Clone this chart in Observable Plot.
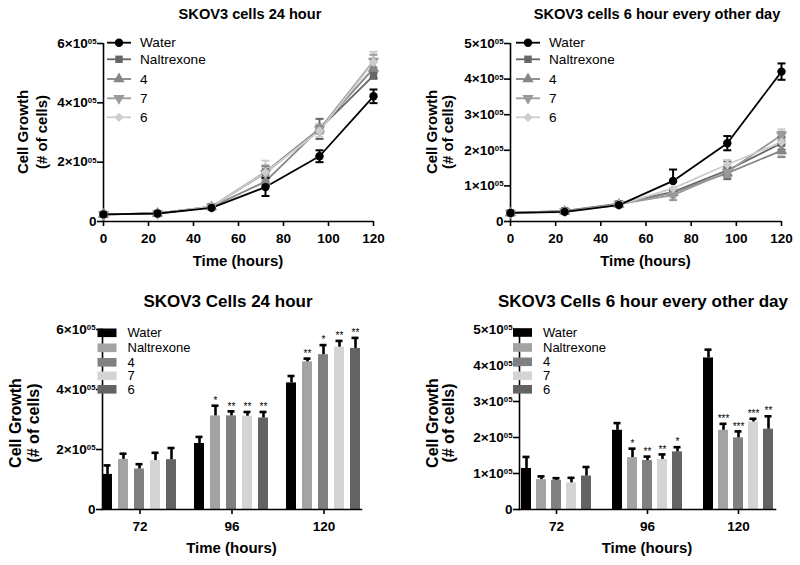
<!DOCTYPE html>
<html><head><meta charset="utf-8">
<script src="https://cdn.jsdelivr.net/npm/d3@7"></script>
<script src="https://cdn.jsdelivr.net/npm/@observablehq/plot@0.6"></script>
<style>
body{margin:0;background:#fff;}
#wrap{position:relative;width:800px;height:565px;font-family:"Liberation Sans",Arial,Helvetica,sans-serif;}
#wrap svg{position:absolute;overflow:visible;}
</style></head><body><div id="wrap"></div>
<script>
// ---------- DATA (cell counts in units of 1e5) ----------
const treatments = ["Water", "Naltrexone", "4", "7", "6"];
const lineTimes = [0, 24, 48, 72, 96, 120];
const barTimes = [72, 96, 120];

// Panel A: SKOV3 cells 24 hour (line)
const a_water = [0.24, 0.27, 0.46, 1.16, 2.20, 4.22];
const a_nal   = [0.24, 0.27, 0.50, 1.67, 3.12, 4.92];
const a_4     = [0.24, 0.27, 0.49, 1.35, 3.12, 5.16];
const a_7     = [0.24, 0.27, 0.50, 1.63, 3.11, 5.41];
const a_6     = [0.24, 0.27, 0.50, 1.66, 3.05, 5.37];
const a_water_sem = [0.02, 0.02, 0.03, 0.30, 0.20, 0.23];
const a_nal_sem   = [0.02, 0.02, 0.02, 0.19, 0.34, 0.11];
const a_4_sem     = [0.02, 0.02, 0.02, 0.16, 0.15, 0.32];
const a_7_sem     = [0.02, 0.02, 0.02, 0.26, 0.14, 0.21];
const a_6_sem     = [0.02, 0.02, 0.02, 0.39, 0.20, 0.35];

// Panel B: SKOV3 cells 6 hour every other day (line)
const b_water = [0.24, 0.27, 0.46, 1.14, 2.20, 4.21];
const b_nal   = [0.24, 0.30, 0.50, 0.83, 1.44, 2.20];
const b_4     = [0.24, 0.28, 0.48, 0.81, 1.36, 1.99];
const b_7     = [0.24, 0.29, 0.49, 0.74, 1.39, 2.43];
const b_6     = [0.24, 0.26, 0.47, 0.93, 1.60, 2.23];
const b_water_sem = [0.02, 0.02, 0.02, 0.32, 0.20, 0.23];
const b_nal_sem   = [0.02, 0.04, 0.03, 0.09, 0.25, 0.18];
const b_4_sem     = [0.02, 0.03, 0.03, 0.06, 0.11, 0.18];
const b_7_sem     = [0.02, 0.03, 0.03, 0.14, 0.14, 0.09];
const b_6_sem     = [0.02, 0.03, 0.03, 0.25, 0.13, 0.36];

// Panel C: SKOV3 Cells 24 hour (bars at 72, 96, 120 h)
const c_water = [1.17, 2.20, 4.22];
const c_nal   = [1.67, 3.12, 4.92];
const c_4     = [1.35, 3.12, 5.16];
const c_7     = [1.63, 3.11, 5.41];
const c_6     = [1.66, 3.05, 5.37];
const c_water_sem = [0.30, 0.22, 0.23];
const c_nal_sem   = [0.19, 0.34, 0.11];
const c_4_sem     = [0.16, 0.15, 0.32];
const c_7_sem     = [0.26, 0.14, 0.21];
const c_6_sem     = [0.39, 0.20, 0.35];
const c_water_sig = ["", "", ""];
const c_nal_sig   = ["", "*", "**"];
const c_4_sig     = ["", "**", "*"];
const c_7_sig     = ["", "**", "**"];
const c_6_sig     = ["", "**", "**"];

// Panel D: SKOV3 Cells 6 hour every other day (bars)
const d_water = [1.14, 2.20, 4.21];
const d_nal   = [0.83, 1.44, 2.20];
const d_4     = [0.81, 1.36, 1.99];
const d_7     = [0.74, 1.39, 2.43];
const d_6     = [0.93, 1.60, 2.23];
const d_water_sem = [0.32, 0.20, 0.23];
const d_nal_sem   = [0.09, 0.25, 0.18];
const d_4_sem     = [0.06, 0.11, 0.18];
const d_7_sem     = [0.14, 0.14, 0.09];
const d_6_sem     = [0.25, 0.13, 0.36];
const d_water_sig = ["", "", ""];
const d_nal_sig   = ["", "*", "***"];
const d_4_sig     = ["", "**", "***"];
const d_7_sig     = ["", "**", "***"];
const d_6_sig     = ["", "*", "**"];

const lineColors = ["#000000", "#666666", "#868686", "#9a9a9a", "#cdcdcd"];
const barColors  = ["#000000", "#a3a3a6", "#808080", "#d4d4d4", "#636363"];

// ---------- helpers ----------
const FONT = '"Liberation Sans", Arial, Helvetica, sans-serif';
const ns = "http://www.w3.org/2000/svg";
const SCALE = 1e5;
const fmt = d => d === 0 ? "0" : `${Math.round(d / SCALE)}×10^05`;

const triDown = {draw(ctx, size) {
  const y = -Math.sqrt(size / (Math.sqrt(3) * 3));
  ctx.moveTo(0, -2 * y); ctx.lineTo(-Math.sqrt(3) * y, y); ctx.lineTo(Math.sqrt(3) * y, y); ctx.closePath();
}};
const hbar = {draw(ctx, size) {
  const w = Math.sqrt(size / Math.PI);
  ctx.moveTo(-w, 0); ctx.lineTo(w, 0);
}};
const lineSymbols = [d3.symbolCircle, d3.symbolSquare, d3.symbolTriangle, triDown, d3.symbolDiamond2];

function superscripts(svg) {
  svg.querySelectorAll("text").forEach(t => {
    if (t.textContent.includes("^")) {
      const [base, sup] = t.textContent.split("^");
      t.textContent = base;
      const ts = document.createElementNS(ns, "tspan");
      ts.setAttribute("dy", "-0.5em");
      ts.setAttribute("font-size", "0.58em");
      ts.textContent = sup;
      t.appendChild(ts);
    }
  });
}

function addText(svg, txt, x, y, size, weight, anchor = "middle", rotate = false) {
  const t = d3.select(svg).append("text")
    .attr("font-family", FONT).attr("font-size", size).attr("font-weight", weight)
    .attr("text-anchor", anchor).attr("dy", "0.35em").attr("fill", "#000").text(txt);
  if (rotate) t.attr("transform", `translate(${x},${y}) rotate(-90)`);
  else t.attr("x", x).attr("y", y);
  return t;
}

function place(svg, left, top) {
  svg.style.left = left + "px";
  svg.style.top = top + "px";
  document.getElementById("wrap").appendChild(svg);
}

const axisStyle = {fontSize: 13.5, fontWeight: "bold", fill: "#000"};

function lineData(means, sems) {
  const rows = [];
  treatments.forEach((tr, i) => lineTimes.forEach((t, j) => rows.push({
    treatment: tr, time: t, mean: means[i][j] * SCALE,
    lo: (means[i][j] - sems[i][j]) * SCALE, hi: (means[i][j] + sems[i][j]) * SCALE
  })));
  // draw Water last so it sits on top
  return rows.filter(r => r.treatment !== "Water").concat(rows.filter(r => r.treatment === "Water"));
}

function linePanel({means, sems, yMax, yStep, marginLeft, marginRight, title, titleX, labelX1, labelX2, legendX, left}) {
  const data = lineData(means, sems);
  const yTicks = d3.range(0, yMax + 1, yStep);
  const svg = Plot.plot({
    width: 400, height: 270,
    marginLeft, marginRight, marginTop: 43, marginBottom: 49,
    style: {fontFamily: FONT, fontSize: "13px", color: "#000", background: "transparent"},
    x: {domain: [0, 120], label: null},
    y: {domain: [0, yMax], label: null},
    color: {domain: treatments, range: lineColors},
    symbol: {domain: treatments, range: lineSymbols},
    marks: [
      Plot.axisX({ticks: [0, 20, 40, 60, 80, 100, 120], tickSize: 5, tickPadding: 7, label: null, strokeWidth: 1.6, ...axisStyle}),
      Plot.axisY({ticks: yTicks, tickFormat: fmt, tickSize: 6, tickPadding: 1, label: null, strokeWidth: 1.6, ...axisStyle}),
      Plot.ruleY([0], {strokeWidth: 1.6}),
      Plot.ruleX([0], {strokeWidth: 1.6}),
      Plot.line(data, {x: "time", y: "mean", z: "treatment", stroke: "treatment", strokeWidth: 1.8}),
      Plot.ruleX(data, {x: "time", y1: "lo", y2: "hi", stroke: "treatment", strokeWidth: 2}),
      Plot.dot(data, {x: "time", y: "lo", symbol: hbar, r: 4, stroke: "treatment", strokeWidth: 2}),
      Plot.dot(data, {x: "time", y: "hi", symbol: hbar, r: 4, stroke: "treatment", strokeWidth: 2}),
      Plot.dot(data, {x: "time", y: "mean", symbol: "treatment", fill: "treatment", r: 4.2, stroke: null})
    ]
  });
  superscripts(svg);
  addText(svg, title, titleX, 14, 14.6, "bold");
  addText(svg, "Cell Growth", labelX1, 132, 15, "bold", "middle", true);
  addText(svg, "(# of cells)", labelX2, 132, 15, "bold", "middle", true);
  addText(svg, "Time (hours)", marginLeft + (400 - marginLeft - marginRight) / 2, 261, 15, "bold");
  // legend
  const rows = [42.7, 59.3, 79, 98.3, 117.3];
  const g = d3.select(svg).append("g");
  treatments.forEach((tr, i) => {
    g.append("line").attr("x1", legendX).attr("x2", legendX + 24).attr("y1", rows[i]).attr("y2", rows[i])
      .attr("stroke", lineColors[i]).attr("stroke-width", 1.8);
    g.append("path").attr("d", d3.symbol(lineSymbols[i], 4.2 * 4.2 * Math.PI)())
      .attr("transform", `translate(${legendX + 12},${rows[i]})`).attr("fill", lineColors[i]);
    g.append("text").attr("x", legendX + 33).attr("y", rows[i]).attr("dy", "0.35em")
      .attr("text-anchor", "start").attr("font-weight", "normal")
      .attr("font-family", FONT).attr("font-size", 13.6).attr("fill", "#000").text(tr);
  });
  place(svg, left, 0);
}

function barData(means, sems, sigs) {
  const rows = [];
  treatments.forEach((tr, i) => barTimes.forEach((t, j) => rows.push({
    treatment: tr, time: t, mean: means[i][j] * SCALE,
    top: (means[i][j] + sems[i][j]) * SCALE, sig: sigs[i][j]
  })));
  return rows;
}

function barPanel({means, sems, sigs, yMax, yStep, marginLeft, marginRight, title, titleX, labelX1, labelX2, legendX, legendRows, left}) {
  const data = barData(means, sems, sigs);
  const yTicks = d3.range(0, yMax + 1, yStep);
  const svg = Plot.plot({
    width: 400, height: 295,
    marginLeft, marginRight, marginTop: 59, marginBottom: 56,
    style: {fontFamily: FONT, fontSize: "13px", color: "#000", background: "transparent"},
    fx: {domain: barTimes, paddingInner: 0.185, paddingOuter: 0.065, label: null},
    x: {domain: treatments, paddingInner: 0.35, paddingOuter: 0, axis: null},
    y: {domain: [0, yMax], label: null},
    color: {domain: treatments, range: barColors},
    marks: [
      Plot.barY(data, {fx: "time", x: "treatment", y: "mean", fill: "treatment"}),
      Plot.ruleX(data, {fx: "time", x: "treatment", y1: "mean", y2: "top", stroke: "#000", strokeWidth: 2.6}),
      Plot.tickY(data, {fx: "time", x: "treatment", y: "top", stroke: "#000", strokeWidth: 2.6, insetLeft: 1.5, insetRight: 1.5}),
      Plot.text(data, {fx: "time", x: "treatment", y: "top", text: "sig", dy: -5, fontSize: 10, fill: "#000"}),
      Plot.axisFx({anchor: "bottom", tickSize: 5, tickPadding: 6.5, label: null, strokeWidth: 1.6, ...axisStyle}),
      Plot.axisY({ticks: yTicks, tickFormat: fmt, tickSize: 6, tickPadding: 1, label: null, strokeWidth: 1.6, ...axisStyle}),
      Plot.frame({anchor: "left", facet: "super", strokeWidth: 1.6}),
      Plot.frame({anchor: "bottom", facet: "super", strokeWidth: 1.6})
    ]
  });
  superscripts(svg);
  addText(svg, title, titleX, 31, 17, "bold");
  addText(svg, "Cell Growth", labelX1, 153, 16, "bold", "middle", true);
  addText(svg, "(# of cells)", labelX2, 153, 16, "bold", "middle", true);
  addText(svg, "Time (hours)", marginLeft + (400 - marginLeft - marginRight) / 2, 278, 15, "bold");
  const g = d3.select(svg).append("g");
  treatments.forEach((tr, i) => {
    g.append("rect").attr("x", legendX).attr("y", legendRows[i] - 4.3).attr("width", 19).attr("height", 8.6)
      .attr("fill", barColors[i]);
    g.append("text").attr("x", legendX + 30).attr("y", legendRows[i]).attr("dy", "0.35em")
      .attr("text-anchor", "start").attr("font-weight", "normal")
      .attr("font-family", FONT).attr("font-size", 13).attr("fill", "#000").text(tr);
  });
  place(svg, left, 270);
}

linePanel({
  means: [a_water, a_nal, a_4, a_7, a_6], sems: [a_water_sem, a_nal_sem, a_4_sem, a_7_sem, a_6_sem],
  yMax: 6e5, yStep: 2e5, marginLeft: 103, marginRight: 27,
  title: "SKOV3 cells 24 hour", titleX: 250, labelX1: 23, labelX2: 42, legendX: 107, left: 0
});
linePanel({
  means: [b_water, b_nal, b_4, b_7, b_6], sems: [b_water_sem, b_nal_sem, b_4_sem, b_7_sem, b_6_sem],
  yMax: 5e5, yStep: 1e5, marginLeft: 110, marginRight: 19,
  title: "SKOV3 cells 6 hour every other day", titleX: 257, labelX1: 32, labelX2: 48, legendX: 116, left: 400
});
barPanel({
  means: [c_water, c_nal, c_4, c_7, c_6], sems: [c_water_sem, c_nal_sem, c_4_sem, c_7_sem, c_6_sem],
  sigs: [c_water_sig, c_nal_sig, c_4_sig, c_7_sig, c_6_sig],
  yMax: 6e5, yStep: 2e5, marginLeft: 96, marginRight: 33,
  title: "SKOV3 Cells 24 hour", titleX: 228, labelX1: 15, labelX2: 33, legendX: 97.5,
  legendRows: [62.8, 77.8, 92.3, 105.8, 119.3], left: 0
});
barPanel({
  means: [d_water, d_nal, d_4, d_7, d_6], sems: [d_water_sem, d_nal_sem, d_4_sem, d_7_sem, d_6_sem],
  sigs: [d_water_sig, d_nal_sig, d_4_sig, d_7_sig, d_6_sig],
  yMax: 5e5, yStep: 1e5, marginLeft: 112, marginRight: 18,
  title: "SKOV3 Cells 6 hour every other day", titleX: 243, labelX1: 32, labelX2: 48, legendX: 113,
  legendRows: [62.5, 77.5, 91.8, 105.8, 119.3], left: 400
});
</script></body></html>
